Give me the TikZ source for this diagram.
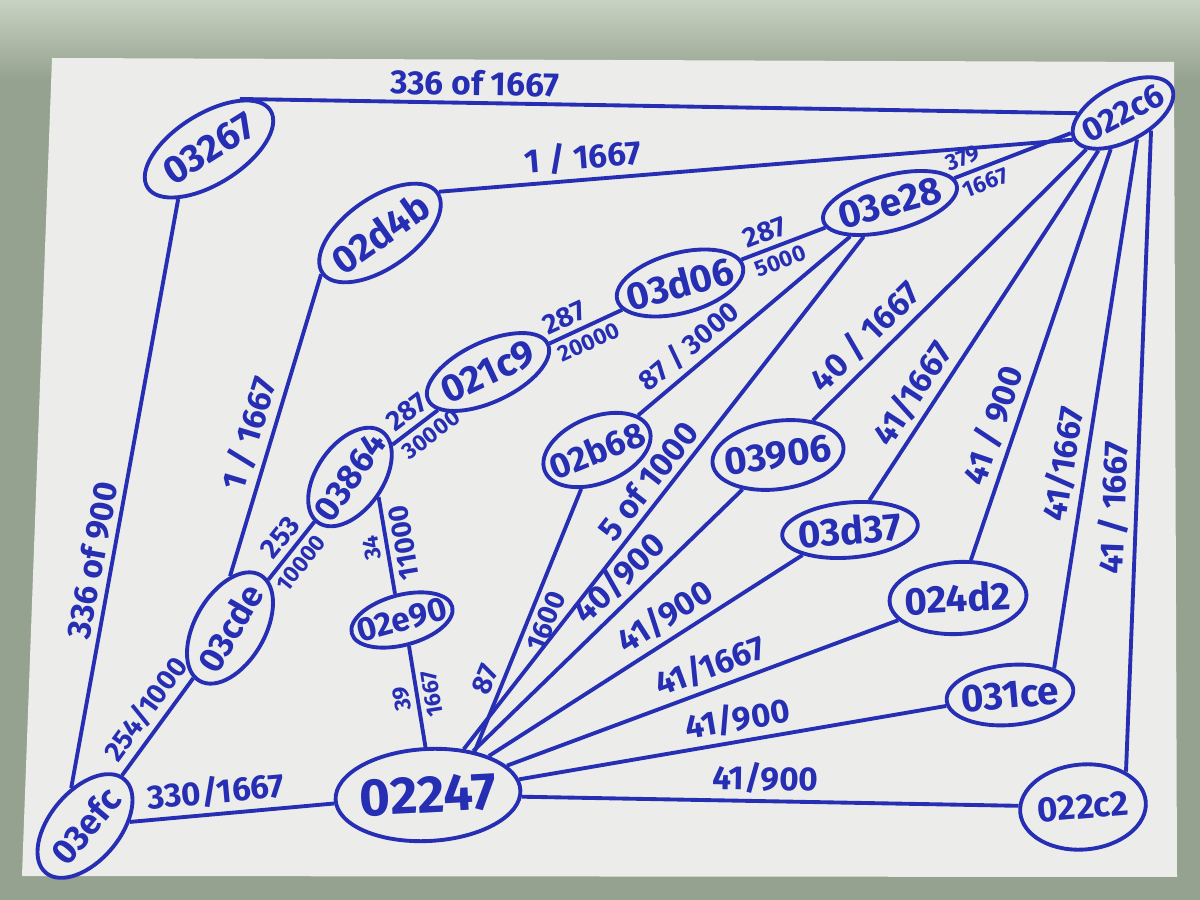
\documentclass[tikz,border=0pt]{standalone}
\usepackage{fontspec}
\setmainfont{Fira Sans}
\usetikzlibrary{shapes.geometric}
\definecolor{ink}{RGB}{38,46,180}
\definecolor{sheet}{RGB}{236,237,234}
\definecolor{desk}{RGB}{150,162,144}
\definecolor{desktop}{RGB}{200,210,194}
\newcommand{\penfont}[1]{\bfseries\fontsize{#1}{#1}\selectfont}

\begin{document}
\begin{tikzpicture}[line width=1.1pt, ink,
    hexid/.style={draw, ellipse, inner sep=-1mm, font=\penfont{11}},
    lbl/.style={sloped, inner sep=1.5pt, font=\penfont{9.5}},
    lblm/.style={lbl, font=\penfont{8}},
    lbls/.style={lbl, font=\penfont{6.5}}]
    \fill[desk] (0,0) rectangle (12,9);
    \shade[top color=desktop, bottom color=desk] (0,8.2) rectangle (12,9);
    \fill[sheet] (0.52,8.42) -- (11.74,8.38) -- (11.77,0.23) -- (0.22,0.24) -- cycle;

    \node[hexid, minimum width=14.5mm, minimum height=7mm, rotate=32] (n03267) at (2.09,7.51) {03267};
    \node[hexid, minimum width=14mm, minimum height=7mm, rotate=35] (n02d4b) at (3.80,6.67) {02d4b};
    \node[hexid, minimum width=13mm, minimum height=6mm, rotate=15] (n03d06) at (6.80,6.17) {03d06};
    \node[hexid, minimum width=13.8mm, minimum height=5.5mm, rotate=15] (n03e28) at (8.90,6.97) {03e28};
    \node[hexid, minimum width=11mm, minimum height=5.6mm, rotate=28, font=\penfont{9.5}] (n022c6) at (11.23,7.87) {022c6};
    \node[hexid, minimum width=13.2mm, minimum height=6mm, rotate=25] (n021c9) at (4.88,5.28) {021c9};
    \node[hexid, minimum width=11mm, minimum height=6.6mm, rotate=55, font=\penfont{10}] (n03864) at (3.50,4.23) {03864};
    \node[hexid, minimum width=11.2mm, minimum height=6.6mm, rotate=22, font=\penfont{10}] (n02b68) at (5.97,4.50) {02b68};
    \node[hexid, minimum width=13.2mm, minimum height=6.8mm, rotate=8] (n03906) at (7.78,4.45) {03906};
    \node[hexid, minimum width=13.6mm, minimum height=5.5mm, rotate=5] (n03d37) at (8.50,3.70) {03d37};
    \node[hexid, minimum width=12.2mm, minimum height=7mm, rotate=60, font=\penfont{10}] (n03cde) at (2.30,2.72) {03cde};
    \node[hexid, minimum width=10.4mm, minimum height=5mm, rotate=15, font=\penfont{9.5}] (n02e90) at (4.02,2.80) {02e90};
    \node[hexid, minimum width=13.7mm, minimum height=7.2mm, rotate=3] (n024d2) at (9.58,3.02) {024d2};
    \node[hexid, minimum width=12.7mm, minimum height=6mm, rotate=5] (n031ce) at (10.10,2.05) {031ce};
    \node[hexid, minimum width=12.2mm, minimum height=7mm, rotate=50, font=\penfont{10}] (n03efc) at (0.85,0.74) {03efc};
    \node[hexid, minimum width=18.5mm, minimum height=9.2mm, rotate=3, font=\penfont{15}] (n02247) at (4.28,1.05) {02247};
    \node[hexid, minimum width=12.6mm, minimum height=8.5mm, rotate=5, font=\penfont{10}] (n022c2) at (10.83,0.93) {022c2};

    \path
    (n03267.north east) edge node[lbl, above, pos=0.28] {336 of 1667} (n022c6.north west)
    (n03267.south west) edge node[lbl, above, pos=0.62] {336 of 900} (n03efc.60)

    (n02d4b.east) edge node[lbl, above, pos=0.23] {1 / 1667} (n022c6.west)
    (n02d4b.west) edge node[lbl, above, pos=0.55] {1 / 1667} (n03cde.30)

    (n03cde) edge node[lblm, above, pos=0.55] {253} node[lbls, below, pos=0.45] {10000} (n03864)
    (n03864) edge node[lblm, above, pos=0.55] {287} node[lbls, below, pos=0.65] {30000} (n021c9)
    (n021c9) edge node[lblm, above, pos=0.3] {287} node[lbls, below, pos=0.45] {20000} (n03d06)
    (n03d06) edge node[lblm, above, pos=0.35] {287} node[lbls, below, pos=0.4] {5000} (n03e28)
    (n03e28) edge node[lbls, above, pos=0.12] {379} node[lbls, below, pos=0.22] {1667} (n022c6)

    (n02e90.north) edge node[lbls, above, allow upside down] {34} node[lblm, below, allow upside down] {11000} (n03864.south)
    (n02247.north) edge node[lbls, above, allow upside down] {39} node[lbls, below, allow upside down] {1667} (n02e90.south)

    (n02247.40) edge node[lblm, above, pos=0.25] {87} node[lblm, below, pos=0.52] {1600} (n02b68)
    (n02b68) edge node[lblm, above, pos=0.3] {87 / 3000} (n03e28)
    (n02247) edge node[lbl, above, pos=0.5] {5 of 1000} (n03e28)
    (n02247) edge node[lbl, above, pos=0.6] {40/900} (n03906)
    (n02247) edge node[lbl, above, pos=0.6] {41/900} (n03d37.south west)
    (n02247) edge node[lbl, above, pos=0.54] {41/1667} (n024d2)
    (n02247) edge node[lbl, above, pos=0.52] {41/900} (n031ce)
    (n02247) edge node[lbl, above, pos=0.49] {41/900} (n022c2)

    (n03efc) edge node[lblm, above, pos=0.56] {254/1000} (n03cde)
    (n03efc) edge node[lbl, above, pos=0.43] {330/1667} (n02247)

    (n03906) edge node[lbl, above, pos=0.25] {40 / 1667} (n022c6)
    (n03d37) edge node[lbl, above, pos=0.27] {41/1667} (n022c6)
    (n024d2) edge node[lbl, above, pos=0.31] {41 / 900} (n022c6)
    (n031ce.north east) edge node[lbl, above, pos=0.38] {41/1667} (n022c6.south)
    (n022c2.north east) edge node[lbl, above, pos=0.41] {41 / 1667} (n022c6.-60);
\end{tikzpicture}
\end{document}
